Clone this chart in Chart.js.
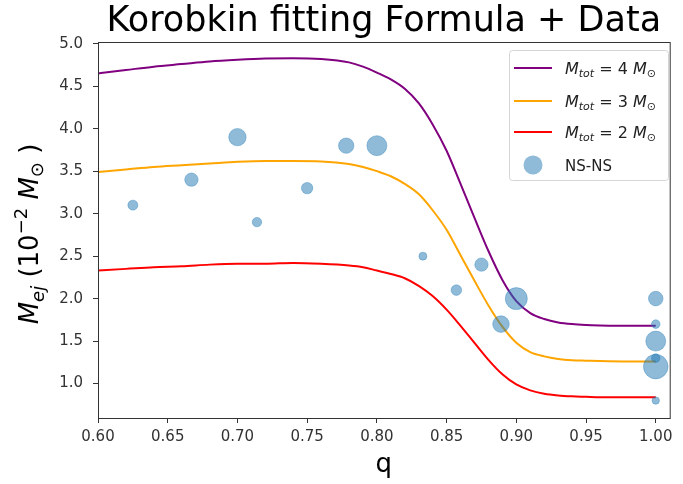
<!DOCTYPE html>
<html>
<head>
<meta charset="utf-8">
<script src="https://cdn.jsdelivr.net/npm/chart.js@4/dist/chart.umd.min.js"></script>
<style>
  body { margin: 0; background: #fff; }
  #wrap { width: 683px; height: 484px; }
</style>
</head>
<body>
<div id="wrap"><canvas id="c" width="683" height="484"></canvas></div>
<script>
// q grid shared by the three fitting curves
const qGrid = [0.60, 0.62, 0.64, 0.66, 0.68, 0.70, 0.72, 0.74, 0.76, 0.78, 0.79, 0.80, 0.81, 0.82, 0.83,
  0.84, 0.85, 0.86, 0.87, 0.88, 0.89, 0.90, 0.91, 0.92, 0.93, 0.94, 0.95, 0.96, 0.98, 1.00];

// Korobkin curves (units of 1e-2 Msun)
const mTot4 = [4.65, 4.69, 4.73, 4.76, 4.79, 4.81, 4.825, 4.83, 4.82, 4.78, 4.73, 4.66, 4.58, 4.47, 4.30,
  4.05, 3.74, 3.35, 2.95, 2.56, 2.22, 1.97, 1.83, 1.76, 1.72, 1.70, 1.69, 1.685, 1.68, 1.68];
const mTot3 = [3.49, 3.52, 3.55, 3.57, 3.59, 3.61, 3.62, 3.62, 3.615, 3.585, 3.55, 3.50, 3.44, 3.35, 3.23,
  3.04, 2.81, 2.51, 2.21, 1.92, 1.67, 1.48, 1.37, 1.32, 1.29, 1.275, 1.27, 1.265, 1.26, 1.26];
const mTot2 = [2.33, 2.35, 2.37, 2.38, 2.40, 2.41, 2.41, 2.42, 2.41, 2.39, 2.37, 2.33, 2.29, 2.24, 2.15,
  2.03, 1.87, 1.68, 1.48, 1.28, 1.11, 0.99, 0.92, 0.88, 0.86, 0.85, 0.845, 0.84, 0.84, 0.84];

// NS-NS simulation points: mass ratio, ejecta mass, marker size
const nsQ    = [0.625, 0.667, 0.700, 0.714, 0.750, 0.778, 0.800, 0.833, 0.857, 0.875, 0.889, 0.900,
  1.0, 1.0, 1.0, 1.0, 1.0, 1.0];
const nsMej  = [3.1, 3.4, 3.9, 2.9, 3.3, 3.8, 3.8, 2.5, 2.1, 2.4, 1.7, 2.0,
  2.0, 1.7, 1.5, 1.3, 1.2, 0.8];
const nsSize = [5, 6.7, 8.7, 4.7, 5.7, 7.7, 10, 4, 5.3, 6.7, 8.3, 11,
  7.3, 4.3, 10, 4.3, 12.3, 3.7];

const xTicks = [0.60, 0.65, 0.70, 0.75, 0.80, 0.85, 0.90, 0.95, 1.00];
const yTicks = [1.0, 1.5, 2.0, 2.5, 3.0, 3.5, 4.0, 4.5, 5.0];

const FONT = '"DejaVu Sans", sans-serif';
const AXIS = '#333';
const DOT = 'rgba(31,119,180,0.5)';

function curve(vals) {
  return qGrid.map((q, i) => ({ x: q, y: vals[i] }));
}

// draws a run of [text, size, italic, dy] pieces; returns total width
function richText(ctx, pieces, x, y, align) {
  let w = 0;
  pieces.forEach(p => {
    ctx.font = (p[2] ? 'italic ' : '') + p[1] + 'px ' + FONT;
    w += ctx.measureText(p[0]).width;
  });
  let cx = align === 'center' ? x - w / 2 : x;
  pieces.forEach(p => {
    ctx.font = (p[2] ? 'italic ' : '') + p[1] + 'px ' + FONT;
    ctx.fillText(p[0], cx, y + (p[3] || 0));
    cx += ctx.measureText(p[0]).width;
  });
  return w;
}

const decor = {
  id: 'decor',
  afterDraw(chart) {
    const { ctx, chartArea: a } = chart;
    ctx.save();
    // full frame
    ctx.strokeStyle = AXIS;
    ctx.lineWidth = 1;
    ctx.strokeRect(a.left + 0.5, a.top + 0.5, a.right - a.left, a.bottom - a.top);

    ctx.fillStyle = '#000';
    ctx.textBaseline = 'alphabetic';
    // title
    ctx.font = '35px ' + FONT;
    ctx.textAlign = 'center';
    ctx.fillText('Korobkin fitting Formula + Data', (a.left + a.right) / 2, 31);
    // x title
    ctx.font = '26px ' + FONT;
    ctx.fillText('q', (a.left + a.right) / 2, 472);
    // y title
    ctx.textAlign = 'left';
    ctx.translate(38, 234);
    ctx.rotate(-Math.PI / 2);
    richText(ctx, [['M', 26, true], ['ej', 18, true, 6], [' (10', 26, false], ['\u22122', 18, false, -11],
      [' M', 26, true], ['\u2299', 18, false, 5], [' )', 26, false]], 0, 0, 'center');
    ctx.restore();

    // legend
    ctx.save();
    const bx = 509.5, by = 50.5, bw = 159, bh = 130;
    ctx.beginPath();
    ctx.roundRect(bx, by, bw, bh, 3);
    ctx.fillStyle = 'rgba(255,255,255,0.8)';
    ctx.fill();
    ctx.strokeStyle = '#d5d5d5';
    ctx.stroke();
    const rowsY = [68, 101, 132];
    const masses = ['4', '3', '2'];
    chart.data.datasets.slice(0, 3).forEach((ds, i) => {
      ctx.strokeStyle = ds.borderColor;
      ctx.lineWidth = 2;
      ctx.beginPath();
      ctx.moveTo(514, rowsY[i]);
      ctx.lineTo(552, rowsY[i]);
      ctx.stroke();
      ctx.fillStyle = '#222';
      ctx.textAlign = 'left';
      richText(ctx, [['M', 16, true], ['tot', 11, true, 3], [' = ' + masses[i] + ' ', 16, false],
        ['M', 16, true], ['\u2299', 11, false, 3]], 565, rowsY[i] + 6, 'left');
    });
    ctx.fillStyle = DOT;
    ctx.beginPath();
    ctx.arc(533, 165, 9.5, 0, Math.PI * 2);
    ctx.fill();
    ctx.fillStyle = '#222';
    ctx.font = '15px ' + FONT;
    ctx.fillText('NS-NS', 565, 171);
    ctx.restore();
  }
};

new Chart(document.getElementById('c'), {
  type: 'line',
  data: {
    datasets: [
      { data: curve(mTot4), borderColor: 'purple', borderWidth: 2, pointRadius: 0, cubicInterpolationMode: 'monotone', order: 1 },
      { data: curve(mTot3), borderColor: 'orange', borderWidth: 2, pointRadius: 0, cubicInterpolationMode: 'monotone', order: 1 },
      { data: curve(mTot2), borderColor: 'red', borderWidth: 2, pointRadius: 0, cubicInterpolationMode: 'monotone', order: 1 },
      {
        type: 'scatter',
        data: nsQ.map((q, i) => ({ x: q, y: nsMej[i] })),
        pointRadius: nsSize,
        backgroundColor: DOT,
        borderColor: 'rgba(31,119,180,0.35)',
        borderWidth: 1,
        order: 0,
      },
    ],
  },
  options: {
    responsive: false,
    animation: false,
    layout: { padding: { top: 42, right: 5, left: 0, bottom: 0 } },
    scales: {
      x: {
        type: 'linear', min: 0.6, max: 1.01,
        afterBuildTicks: s => { s.ticks = xTicks.map(v => ({ value: v })); },
        afterFit: s => { s.height = 66; },
        grid: { drawOnChartArea: false, drawTicks: true, tickLength: 5, tickColor: AXIS },
        border: { color: AXIS },
        ticks: { color: '#333', font: { family: FONT, size: 15 }, padding: 5, maxRotation: 0,
          callback: v => v.toFixed(2) },
      },
      y: {
        min: 0.595, max: 5.02,
        afterBuildTicks: s => { s.ticks = yTicks.map(v => ({ value: v })); },
        afterFit: s => { s.width = 98; },
        grid: { drawOnChartArea: false, drawTicks: true, tickLength: 5, tickColor: AXIS },
        border: { color: AXIS },
        ticks: { color: '#333', font: { family: FONT, size: 15 }, padding: 10,
          callback: v => v.toFixed(1) },
      },
    },
    plugins: { legend: { display: false }, tooltip: { enabled: false }, title: { display: false } },
  },
  plugins: [decor],
});
</script>
</body>
</html>
